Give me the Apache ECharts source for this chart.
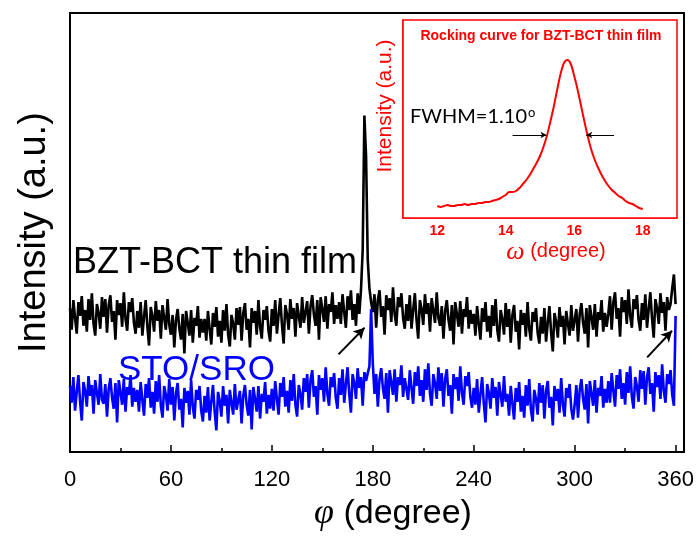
<!DOCTYPE html>
<html><head><meta charset="utf-8">
<script src="https://cdn.jsdelivr.net/npm/echarts@6/dist/echarts.min.js"></script>
<style>html,body{margin:0;padding:0;background:#fff}#c{width:698px;height:537px}</style>
</head><body><div id="c"></div>
<script>
// phi scan (degree), sampled every 1 degree from 0 to 360
const phiStart = 0, phiStep = 1;
const bztIntensity = [
146,124,154,136,120,152,138,158,128,144,122,155,134,161,130,118,150,141,125,157,
137,155,121,149,159,132,143,114,154,139,151,127,162,135,123,152,142,156,131,120,
143,126,152,118,137,154,127,108,147,138,122,153,133,144,115,149,136,124,155,129,
119,139,106,134,145,125,114,140,100,143,131,118,144,111,136,128,148,116,135,121,
135,113,143,125,109,141,127,147,117,133,111,144,123,150,119,107,139,130,114,146,
129,147,113,141,151,124,135,106,146,131,143,119,154,127,115,144,134,148,123,112,
145,128,154,120,139,156,129,110,149,140,124,155,135,146,117,151,138,126,157,131,
133,153,120,148,159,139,128,154,114,157,145,132,158,125,150,142,162,130,149,135,
152,130,160,142,126,158,144,164,134,150,128,161,140,
165,205,341,300,195,166,152,
142,160,126,154,164,137,148,119,159,144,156,132,167,140,128,157,147,161,136,125,
150,133,159,125,144,161,134,115,154,145,129,160,140,151,122,156,143,131,162,136,
128,148,115,143,154,134,123,149,109,152,140,127,153,120,145,137,157,125,144,130,
140,118,148,130,114,146,132,152,122,138,116,149,128,155,124,112,144,135,119,151,
127,145,111,139,149,122,133,104,144,129,141,117,152,125,113,142,132,146,121,110,
137,120,146,112,131,148,121,102,141,132,116,147,127,138,109,143,130,118,149,123,
125,145,112,140,151,131,120,146,106,149,137,124,150,117,142,134,154,122,141,127,
140,158,124,152,162,135,146,117,157,142,154,130,165,138,126,155,145,159,134,123,
151,134,160,126,145,162,135,116,155,146,130,161,141,152,123,157,144,
150,166,180,150
];
const stoIntensity = [
67,50,76,42,61,78,51,32,71,62,46,77,57,68,39,73,60,48,79,53,
49,69,36,64,75,55,44,70,30,73,61,48,74,41,66,58,78,46,65,51,
63,41,71,53,37,69,55,75,45,61,39,72,51,78,47,35,67,58,42,74,
48,66,32,60,70,43,54,25,65,50,62,38,73,46,34,63,53,67,42,31,
57,40,66,32,51,68,41,22,61,52,36,67,47,58,29,63,50,38,69,43,
42,62,29,57,68,48,37,63,23,66,54,41,67,34,59,51,71,39,58,44,
64,42,72,54,38,70,56,76,46,62,40,73,52,79,48,36,68,59,43,75,
61,79,45,73,83,56,67,38,78,63,75,51,86,59,47,76,66,80,55,44,
75,58,84,50,69,86,59,40,79,70,54,85,65,76,47,81,72,80,87,
145,90,
59,79,46,74,85,65,54,80,40,83,71,58,84,51,76,68,88,56,75,
75,53,83,65,49,81,67,87,57,73,51,84,63,90,59,47,79,70,54,86,
62,80,46,74,84,57,68,39,79,64,76,52,87,60,48,77,67,81,56,45,
65,48,74,40,59,76,49,30,69,60,44,75,55,66,37,71,58,46,77,51,
59,37,67,49,33,65,51,71,41,57,35,68,47,74,43,31,63,54,38,70,
50,68,34,62,72,45,56,27,67,52,64,40,75,48,36,65,55,69,44,33,
48,68,35,63,74,54,43,69,29,72,60,47,73,40,65,57,77,45,64,50,
72,50,80,62,46,78,64,84,54,70,48,81,60,87,56,44,76,67,51,83,
64,82,48,76,86,59,70,41,81,66,78,54,89,62,50,79,69,83,58,47,
138
];
const phiTicks = [0, 60, 120, 180, 240, 300, 360];

// rocking curve (omega scan), sampled every 0.1 degree from 12 to 18
const omegaStart = 12, omegaStep = 0.1;
const rockingIntensity = [
12,11,12,13,12,12,13,13,14,13,
14,14,15,15,16,16,17,18,19,21,
23,26,26,27,30,34,38,43,49,55,
62,71,82,96,111,128,144,155,158,154,
142,128,112,96,81,68,58,50,43,37,
32,28,25,22,20,17,15,14,12,10,
9
];
const omegaTicks = [12, 14, 16, 18];
const omegaMinorTicks = [12, 13, 14, 15, 16, 17, 18];

// annotation arrows, in data units: [fromX, fromY, toX, toY]
const mainArrows = [[159.6, 99, 175.1, 126], [343.1, 96, 357.9, 123]];
const fwhmArrows = [[14.2, 83, 15.19, 83], [17.16, 83, 16.35, 83]];

const bztData = bztIntensity.map((v, i) => [phiStart + i * phiStep, v]);
const stoData = stoIntensity.map((v, i) => [phiStart + i * phiStep, v]);
const rockData = rockingIntensity.map((v, i) => [+(omegaStart + i * omegaStep).toFixed(1), v]);

const toMarkLine = (arr) => arr.map(a => [{coord: [a[0], a[1]]}, {coord: [a[2], a[3]]}]);

const chart = echarts.init(document.getElementById('c'), null, {renderer: 'canvas'});
chart.setOption({
  animation: false,
  backgroundColor: '#fff',
  grid: [
    {left: 70, right: 14, top: 13, bottom: 79, show: true, borderColor: '#000', borderWidth: 2, containLabel: false},
    {left: 403, top: 20, width: 274, height: 198, show: true, borderColor: '#ff0000', borderWidth: 1.5, backgroundColor: '#fff', z: 5}
  ],
  xAxis: [
    {
      type: 'value', gridIndex: 0, min: 0, max: 365, interval: 60,
      axisLine: {lineStyle: {color: '#000', width: 2}},
      axisTick: {inside: true, length: 7, lineStyle: {color: '#000', width: 1.5}},
      minorTick: {show: true, splitNumber: 2, length: 4, lineStyle: {color: '#000', width: 1.5}},
      splitLine: {show: false},
      axisLabel: {customValues: phiTicks, color: '#000', fontSize: 22, margin: 17,
        fontFamily: '"Liberation Sans Narrow", "Liberation Sans", Arial, sans-serif'},
      name: '{g|φ} (degree)', nameLocation: 'middle', nameGap: 43,
      nameTextStyle: {color: '#000', fontSize: 34, fontFamily: '"Liberation Sans", Arial, sans-serif', padding: [0, 0, 0, 32],
        rich: {g: {fontFamily: '"Liberation Serif", serif', fontStyle: 'italic', fontSize: 36, color: '#000'}}}
    },
    {
      type: 'value', gridIndex: 1, min: 11, max: 19, interval: 1,
      axisLine: {lineStyle: {color: '#ff0000', width: 1.5}},
      axisTick: {inside: true, length: 4, customValues: omegaMinorTicks, lineStyle: {color: '#ff0000', width: 1}},
      splitLine: {show: false},
      axisLabel: {customValues: omegaTicks, color: '#ff0000', fontSize: 14, fontWeight: 'bold', margin: 6,
        fontFamily: '"Liberation Sans", Arial, sans-serif'},
      name: '{w|ω} (degree)', nameLocation: 'middle', nameGap: 17,
      nameTextStyle: {color: '#ff0000', fontSize: 20, fontFamily: '"Liberation Sans", Arial, sans-serif', padding: [0, 0, 0, 32],
        rich: {w: {fontFamily: '"Liberation Serif", serif', fontStyle: 'italic', fontSize: 26, color: '#ff0000'}}}
    }
  ],
  yAxis: [
    {
      type: 'value', gridIndex: 0, min: 0, max: 445,
      axisLine: {show: true, lineStyle: {color: '#000', width: 2}},
      axisTick: {show: false}, axisLabel: {show: false}, splitLine: {show: false},
      name: 'Intensity (a.u.)', nameLocation: 'middle', nameGap: 16, nameRotate: 90,
      nameTextStyle: {color: '#000', fontSize: 38, fontFamily: '"Liberation Sans", Arial, sans-serif'}
    },
    {
      type: 'value', gridIndex: 1, min: 0, max: 198,
      axisLine: {show: true, lineStyle: {color: '#ff0000', width: 1.5}},
      axisTick: {show: false}, axisLabel: {show: false}, splitLine: {show: false},
      name: 'Intensity (a.u.)', nameLocation: 'middle', nameGap: 7, nameRotate: 90,
      nameTextStyle: {color: '#ff0000', fontSize: 21, fontFamily: '"Liberation Sans", Arial, sans-serif', padding: [0, 0, 0, 26]}
    }
  ],
  series: [
    {
      type: 'line', xAxisIndex: 0, yAxisIndex: 0, data: bztData, showSymbol: false,
      lineStyle: {color: '#000', width: 2.6}, z: 2,
      markLine: {silent: true, symbol: ['none', 'arrow'], symbolSize: [9, 11], label: {show: false},
        lineStyle: {color: '#000', width: 2, type: 'solid'}, data: toMarkLine(mainArrows)}
    },
    {
      type: 'line', xAxisIndex: 0, yAxisIndex: 0, data: stoData, showSymbol: false,
      lineStyle: {color: '#0000ff', width: 2.6}, z: 3
    },
    {
      type: 'line', xAxisIndex: 1, yAxisIndex: 1, data: rockData, showSymbol: false, smooth: 0.3,
      lineStyle: {color: '#ff0000', width: 2}, z: 6,
      markLine: {silent: true, symbol: ['none', 'arrow'], symbolSize: [5, 6], label: {show: false}, z: 7,
        lineStyle: {color: '#000', width: 1, type: 'solid'}, data: toMarkLine(fwhmArrows)}
    }
  ],
  graphic: [
    {type: 'text', left: 73, top: 245, z: 10,
      style: {text: 'BZT-BCT thin film', fill: '#000', fontSize: 36, fontFamily: '"Liberation Sans", Arial, sans-serif'}},
    {type: 'text', left: 118, top: 353, z: 10,
      style: {text: 'STO/SRO', fill: '#0000ff', fontSize: 35, fontFamily: '"Liberation Sans", Arial, sans-serif'}},
    {type: 'text', x: 541, y: 36, z: 20,
      style: {text: 'Rocking curve for BZT-BCT thin film', fill: '#ff0000', fontSize: 14, fontWeight: 'bold',
        align: 'center', verticalAlign: 'middle', fontFamily: '"Liberation Sans", Arial, sans-serif'}},
    {type: 'text', x: 410, y: 117, z: 20,
      style: {text: '{m|FWHM=1.10}{s|o}', verticalAlign: 'middle',
        rich: {m: {fontSize: 20, fontFamily: 'Lato, "Open Sans", sans-serif', fill: '#000', color: '#000'},
               s: {fontSize: 13, fontFamily: 'Lato, "Open Sans", sans-serif', verticalAlign: 'top', color: '#000', padding: [0, 0, 8, 1]}}}}
  ]
});
</script>
</body></html>
